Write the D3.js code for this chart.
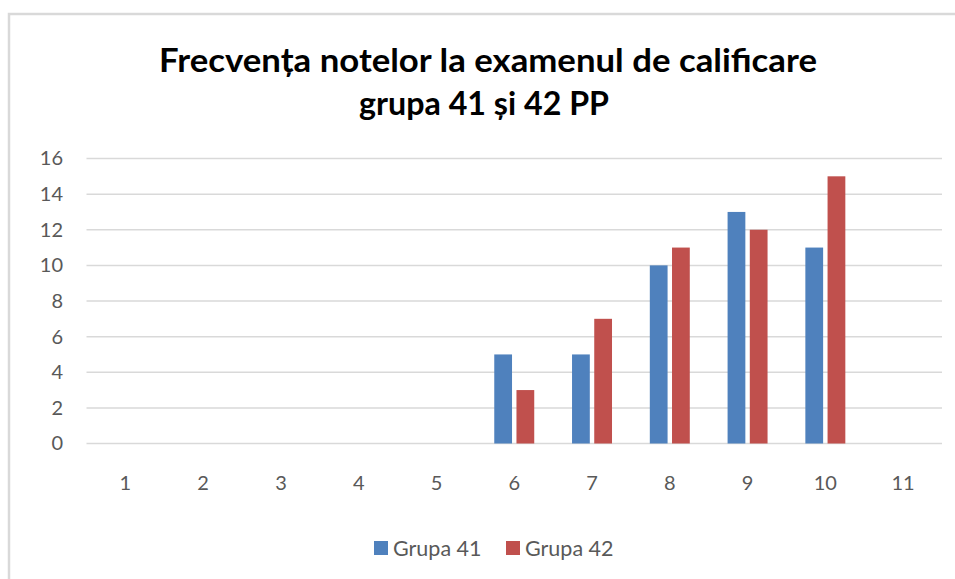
<!DOCTYPE html>
<html>
<head>
<meta charset="utf-8">
<script src="https://cdn.jsdelivr.net/npm/d3@7"></script>
<style>
  body { margin: 0; background: #fff; }
  svg { display: block; }
  text { font-family: Lato, "Open Sans", sans-serif; }
</style>
</head>
<body>
<div id="chart"></div>
<script>
// chart data
var categories = ["1", "2", "3", "4", "5", "6", "7", "8", "9", "10", "11"]
var seriesNames = ["Grupa 41", "Grupa 42"]
var grupa41 = [0, 0, 0, 0, 0, 5, 5, 10, 13, 11, 0]
var grupa42 = [0, 0, 0, 0, 0, 3, 7, 11, 12, 15, 0]
var yTicks = [0, 2, 4, 6, 8, 10, 12, 14, 16]
var colors = ["#4f81bd", "#c0504d"]

var width = 955,
    height = 579

var svg = d3.select("#chart")
  .append("svg")
    .attr("width", width)
    .attr("height", height)

// outer frame of the chart area
svg.append("rect")
  .attr("x", 9)
  .attr("y", 14)
  .attr("width", width)
  .attr("height", height)
  .attr("fill", "none")
  .attr("stroke", "#d9d9d9")
  .attr("stroke-width", 2.5)

// title
var title = svg.append("text")
  .attr("text-anchor", "middle")
  .attr("font-weight", "bold")
  .attr("font-size", 33)
  .attr("fill", "#000")
title.append("tspan")
  .attr("x", 488).attr("y", 72)
  .attr("textLength", 658).attr("lengthAdjust", "spacingAndGlyphs")
  .text("Frecvența notelor la examenul de calificare")
title.append("tspan")
  .attr("x", 484).attr("y", 115)
  .attr("textLength", 250).attr("lengthAdjust", "spacingAndGlyphs")
  .text("grupa 41 și 42 PP")

// scales
var x0 = d3.scaleBand()
  .domain(categories)
  .range([86.5, 942])
  .paddingInner(0.486)
  .paddingOuter(0.243)

var x1 = d3.scaleBand()
  .domain(seriesNames)
  .range([0, x0.bandwidth()])
  .paddingInner(0.2)

var y = d3.scaleLinear()
  .domain([0, 16])
  .range([443.5, 158.5])

// gridlines
svg.append("g")
  .selectAll("line")
  .data(yTicks)
  .enter()
  .append("line")
    .attr("x1", 86.5)
    .attr("x2", 942)
    .attr("y1", function(d) { return y(d) })
    .attr("y2", function(d) { return y(d) })
    .attr("stroke", "#d9d9d9")
    .attr("stroke-width", 1.5)

// y axis labels
var yAxis = svg.append("g")
  .attr("transform", "translate(63,0)")
  .call(d3.axisLeft(y).tickValues(yTicks).tickSize(0).tickPadding(0))
yAxis.select(".domain").remove()
yAxis.selectAll("text")
  .attr("font-family", "Lato, sans-serif")
  .attr("font-size", 20)
  .attr("fill", "#595959")

// x axis labels
var xAxis = svg.append("g")
  .attr("transform", "translate(0,476)")
  .call(d3.axisBottom(x0).tickSize(0).tickPadding(0))
xAxis.select(".domain").remove()
xAxis.selectAll("text")
  .attr("font-family", "Lato, sans-serif")
  .attr("font-size", 20)
  .attr("fill", "#595959")

// bars
var rows = categories.map(function(c, i) {
  return { cat: c, values: [
    { key: seriesNames[0], value: grupa41[i] },
    { key: seriesNames[1], value: grupa42[i] }
  ] }
})

var color = d3.scaleOrdinal().domain(seriesNames).range(colors)

svg.append("g")
  .selectAll("g")
  .data(rows)
  .enter()
  .append("g")
    .attr("transform", function(d) { return "translate(" + x0(d.cat) + ",0)" })
  .selectAll("rect")
  .data(function(d) { return d.values.filter(function(v) { return v.value > 0 }) })
  .enter()
  .append("rect")
    .attr("x", function(d) { return x1(d.key) })
    .attr("y", function(d) { return y(d.value) })
    .attr("width", x1.bandwidth())
    .attr("height", function(d) { return y(0) - y(d.value) })
    .attr("fill", function(d) { return color(d.key) })

// legend
var legendX = [374, 506]
var legend = svg.append("g")
  .selectAll("g")
  .data(seriesNames)
  .enter()
  .append("g")
    .attr("transform", function(d, i) { return "translate(" + legendX[i] + ",541)" })
legend.append("rect")
  .attr("width", 14)
  .attr("height", 14)
  .attr("fill", function(d) { return color(d) })
legend.append("text")
  .attr("x", 19)
  .attr("y", 14.5)
  .attr("font-size", 21.5)
  .attr("fill", "#595959")
  .text(function(d) { return d })
</script>
</body>
</html>
